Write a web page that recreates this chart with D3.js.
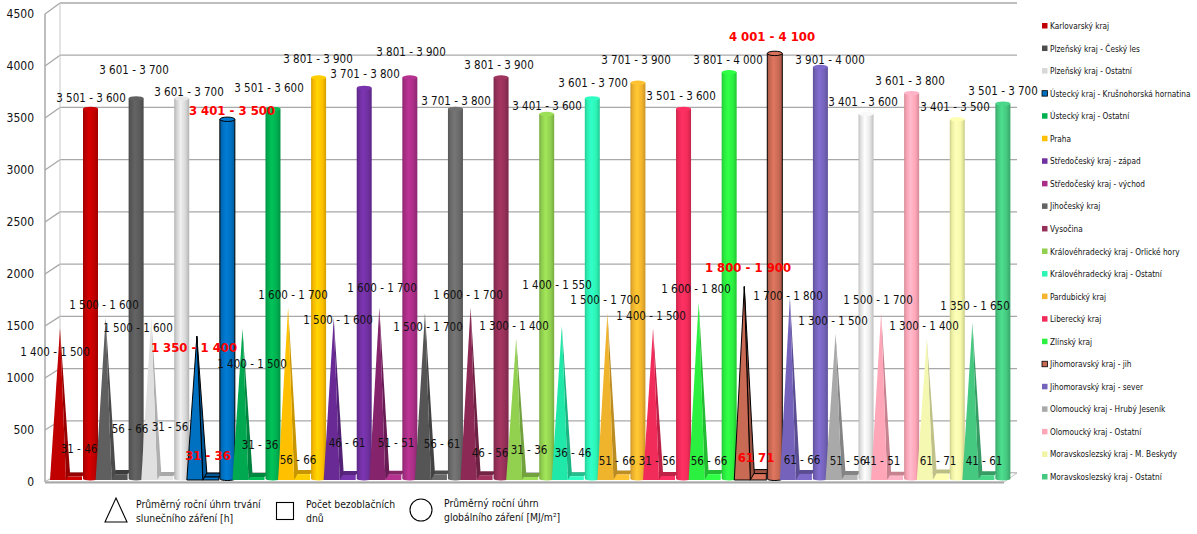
<!DOCTYPE html>
<html><head><meta charset="utf-8">
<script src="https://cdn.jsdelivr.net/npm/d3@7"></script>
<style>html,body{margin:0;padding:0;background:#fff}svg{display:block}text{font-family:"DejaVu Sans Condensed","DejaVu Sans",sans-serif}</style>
</head><body><svg id="c" width="1197" height="534"></svg>
<script>
const regions=["Karlovarský kraj","Plzeňský kraj - Český les","Plzeňský kraj - Ostatní","Ústecký kraj - Krušnohorská hornatina","Ústecký kraj - Ostatní","Praha","Středočeský kraj - západ","Středočeský kraj - východ","Jihočeský kraj","Vysočina","Královéhradecký kraj - Orlické hory","Královéhradecký kraj - Ostatní","Pardubický kraj","Liberecký kraj","Zlínský kraj","Jihomoravský kraj - jih","Jihomoravský kraj - sever","Olomoucký kraj - Hrubý Jeseník","Olomoucký kraj - Ostatní","Moravskoslezský kraj - M. Beskydy","Moravskoslezský kraj - Ostatní"];
const colors=["#c00000","#4d4d4d","#d8d8d8","#0070c0","#00b050","#ffc000","#7030a0","#a92f86","#636363","#953058","#92d050","#2cf5b5","#f4b52e","#f22c5a","#2cf040","#c96a55","#7563bb","#a9a9a9","#ffa7b8","#f0f5a5","#45c880"];
const coneColors=["#c00000","#5f5f5f","#e0e0e0","#0070c0","#00a850","#ffc000","#6a2a96","#85246c","#555555","#8c2a55","#92d050","#20e8a8","#f0b42c","#f22c5a","#2cf040","#c96a55","#7563bb","#a9a9a9","#ffa7b8","#f5f8b0","#45c880"];
const cylinderColors=["#c00000","#5a5a5a","#d8d8d8","#0070c0","#00b050","#ffc000","#7030a0","#a92f86","#6a6a6a","#953058","#92d050","#2cf5b5","#f4b52e","#f22c5a","#2cf040","#c96a55","#7563bb","#e8e8e8","#ffa7b8","#f5f8a8","#45c880"];
const sunshine=[1450,1550,1550,1375,1450,1650,1550,1650,1600,1650,1350,1475,1600,1450,1700,1850,1750,1400,1600,1350,1500];
const cloudless=[38,61,43,33,33,61,53,56,58,51,33,41,58,43,61,66,63,53,46,66,51];
const radiation=[3550,3650,3650,3450,3550,3850,3750,3850,3550,3850,3500,3650,3800,3550,3900,4080,3950,3500,3700,3450,3600];
const sunshineLabels=["1 400 - 1 500","1 500 - 1 600","1 500 - 1 600","1 350 - 1 400","1 400 - 1 500","1 600 - 1 700","1 500 - 1 600","1 600 - 1 700","1 500 - 1 700","1 600 - 1 700","1 300 - 1 400","1 400 - 1 550","1 500 - 1 700","1 400 - 1 500","1 600 - 1 800","1 800 - 1 900","1 700 - 1 800","1 300 - 1 500","1 500 - 1 700","1 300 - 1 400","1 350 - 1 650"];
const cloudlessLabels=["31 - 46","56 - 66","31 - 56","31 - 36","31 - 36","56 - 66","46 - 61","51 - 51","56 - 61","46 - 56","31 - 36","36 - 46","51 - 66","31 - 56","56 - 66","61  71","61 - 66","51 - 56","41 - 51","61 - 71","41 - 61"];
const radiationLabels=["3 501 - 3 600","3 601 - 3 700","3 601 - 3 700","3 401 - 3 500","3 501 - 3 600","3 801 - 3 900","3 701 - 3 800","3 801 - 3 900","3 701 - 3 800","3 801 - 3 900","3 401 - 3 600","3 601 - 3 700","3 701 - 3 900","3 501 - 3 600","3 801 - 4 000","4 001 - 4 100","3 901 - 4 000","3 401 - 3 600","3 601 - 3 800","3 401 - 3 500","3 501 - 3 700"];
const yTicks=[0,500,1000,1500,2000,2500,3000,3500,4000,4500];
const highlighted=[3,15];
const legendNames=[["Průměrný roční úhrn trvání","slunečního záření [h]"],["Počet bezoblačních","dnů"],["Průměrný roční úhrn","globálního záření [MJ/m²]"]];
// label placement (manual data-label positions of the source chart, page coordinates)
const sunLabelPos=[[55,352],[104,305],[138,328],[194,348],[252,364],[293,295],[338,320],[382,288],[428,327],[468,295],[514,326],[557,285],[605,300],[651,316],[696,289],[748,268],[788,296],[833,321],[878,300],[924,326],[975,306]];
const cloudLabelPos=[[79,449],[130,429],[170,427],[208,456],[260,445],[298,460],[347,443],[396,443],[442,444],[490,453],[529,450],[573,453],[617,461],[657,461],[709,461],[756,458],[802,460],[848,461],[882,461],[938,461],[984,461]];
const radLabelPos=[[91,98],[134,70],[189,92],[232,111],[269,88],[318,59],[365,74],[411,52],[456,101],[499,65],[547,106],[593,83],[636,60],[681,96],[728,60],[772,37],[830,60],[863,102],[910,81],[955,107],[1003,91]];

const svg=d3.select("#c");
const defs=svg.append("defs");
const y=d3.scaleLinear().domain([0,4500]).range([482,14]);
const yBack=d3.scaleLinear().domain([0,4500]).range([473,3]);
const yMark=d3.scaleLinear().domain([0,4500]).range([480,9.5]);
const x=d3.scaleBand().domain(d3.range(regions.length)).range([46,1004]);
const D=4;
const wall=svg.append("g");
const gridC="#a8a8a8";
yTicks.forEach(t=>{
  wall.append("line").attr("x1",45).attr("y1",y(t)).attr("x2",60).attr("y2",yBack(t)).attr("stroke",gridC).attr("stroke-width",1.3);
  wall.append("line").attr("x1",60).attr("y1",yBack(t)).attr("x2",1017).attr("y2",yBack(t)).attr("stroke",gridC).attr("stroke-width",1.3);
});
wall.append("line").attr("x1",45).attr("y1",y(0)).attr("x2",45).attr("y2",y(4500)).attr("stroke",gridC).attr("stroke-width",1.5);
wall.append("line").attr("x1",60).attr("y1",yBack(0)).attr("x2",60).attr("y2",yBack(4500)).attr("stroke","#c8c8c8").attr("stroke-width",1);
wall.append("path").attr("d",`M45,${y(0)}L1004,${y(0)}L1017,${yBack(0)}L60,${yBack(0)}Z`).attr("fill","#fff").attr("stroke","#c4c4c4");
wall.append("line").attr("x1",45).attr("y1",y(0)+.5).attr("x2",1004).attr("y2",y(0)+.5).attr("stroke",gridC).attr("stroke-width",2);
const axis=d3.axisLeft(y).tickValues(yTicks).tickSize(0).tickPadding(11).tickFormat(d3.format("d"));
const ax=svg.append("g").attr("transform","translate(45,0)").call(axis);
ax.select(".domain").remove();
ax.selectAll("text").attr("font-size",12).attr("fill","#111");

regions.forEach((r,i)=>{
  const base=d3.color(cylinderColors[i]);
  const g=defs.append("linearGradient").attr("id","g"+i);
  [[0,base.darker(.55)],[.15,base.darker(.1)],[.42,base.brighter(.3)],[.75,base],[1,base.darker(.55)]].forEach(s=>g.append("stop").attr("offset",s[0]).attr("stop-color",s[1]+""));
});
const groups=svg.selectAll("g.grp").data(regions).join("g").attr("class","grp");
groups.each(function(r,i){
  const g=d3.select(this);
  const c=d3.color(colors[i]);
  const cone=d3.color(coneColors[i]);
  const dark=c.darker(.7)+"";
  const hl=highlighted.includes(i);
  const st=hl?"#000":"none";
  const sw=hl?1:0;
  const x0=x(i)+4;
  const bx0=x0+16,bx1=x0+32,by0=480,by1=yMark(cloudless[i])+0.5;
  g.append("path").attr("d",`M${bx0},${by1}L${bx0+D},${by1-D}L${bx1+D},${by1-D}L${bx1},${by1}Z`).attr("fill",dark).attr("stroke",st).attr("stroke-width",sw);
  g.append("rect").attr("x",bx0).attr("y",by1).attr("width",bx1-bx0).attr("height",by0-by1).attr("fill",c.brighter(.2)+"").attr("stroke",st).attr("stroke-width",sw);
  const ax0=x0+10,ay=yMark(sunshine[i]);
  g.append("path").attr("d",`M${ax0},${ay}L${x0+16},480L${x0+20},473Z`).attr("fill",cone.darker(.7)+"").attr("stroke",st).attr("stroke-width",sw);
  g.append("path").attr("d",`M${ax0},${ay}L${x0},480L${x0+16},480Z`).attr("fill",cone+"").attr("stroke",st).attr("stroke-width",sw);
  const cx0=x0+33,cx1=x0+48,ct=yMark(radiation[i]);
  g.append("path").attr("d",`M${cx0},${ct}V479A7.5,1.5 0 0 0 ${cx1},479V${ct}Z`).attr("fill",`url(#g${i})`).attr("stroke",st).attr("stroke-width",sw);
  g.append("ellipse").attr("cx",(cx0+cx1)/2).attr("cy",ct).attr("rx",7.5).attr("ry",2.2).attr("fill",d3.color(cylinderColors[i]).brighter(.2)+"").attr("stroke",hl?"#000":"none").attr("stroke-width",hl?1:0);
});
function labels(texts,pos,cls){
  svg.selectAll("text."+cls).data(texts).join("text").attr("class",cls)
   .attr("x",(d,i)=>pos[i][0]).attr("y",(d,i)=>pos[i][1]+4)
   .attr("text-anchor","middle")
   .attr("font-size",(d,i)=>highlighted.includes(i)?13:11.5)
   .attr("font-weight",(d,i)=>highlighted.includes(i)?"bold":"normal")
   .attr("fill",(d,i)=>highlighted.includes(i)?"#ff0000":"#111")
   .text(d=>d);
}
labels(radiationLabels,radLabelPos,"rad");
labels(sunshineLabels,sunLabelPos,"sun");
labels(cloudlessLabels,cloudLabelPos,"cl");

const ly=d3.scalePoint().domain(d3.range(regions.length)).range([26,477]);
const lg=svg.selectAll("g.lg").data(regions).join("g").attr("class","lg").attr("transform",(d,i)=>`translate(1042,${ly(i)})`);
lg.append("rect").attr("x",0).attr("y",-3).attr("width",5.5).attr("height",5.5).attr("fill",(d,i)=>colors[i]).attr("stroke",(d,i)=>highlighted.includes(i)?"#000":"none").attr("stroke-width",.8);
lg.append("text").attr("x",8).attr("y",3).attr("font-size",8.2).attr("fill","#111").text(d=>d);

const b=svg.append("g").attr("fill","none").attr("stroke","#000");
b.append("path").attr("d","M116,498L127,522L105,522Z").attr("stroke-width",1.1);
b.append("rect").attr("x",276.5).attr("y",502.5).attr("width",17).attr("height",17).attr("stroke-width",1.1);
b.append("circle").attr("cx",421).attr("cy",510).attr("r",11).attr("stroke-width",1.1);
[[136,508],[306,508],[444,507]].forEach((p,k)=>legendNames[k].forEach((t,j)=>
  svg.append("text").attr("x",p[0]).attr("y",p[1]+j*14).attr("font-size",10.3).attr("fill","#111").text(t)));
</script></body></html>
